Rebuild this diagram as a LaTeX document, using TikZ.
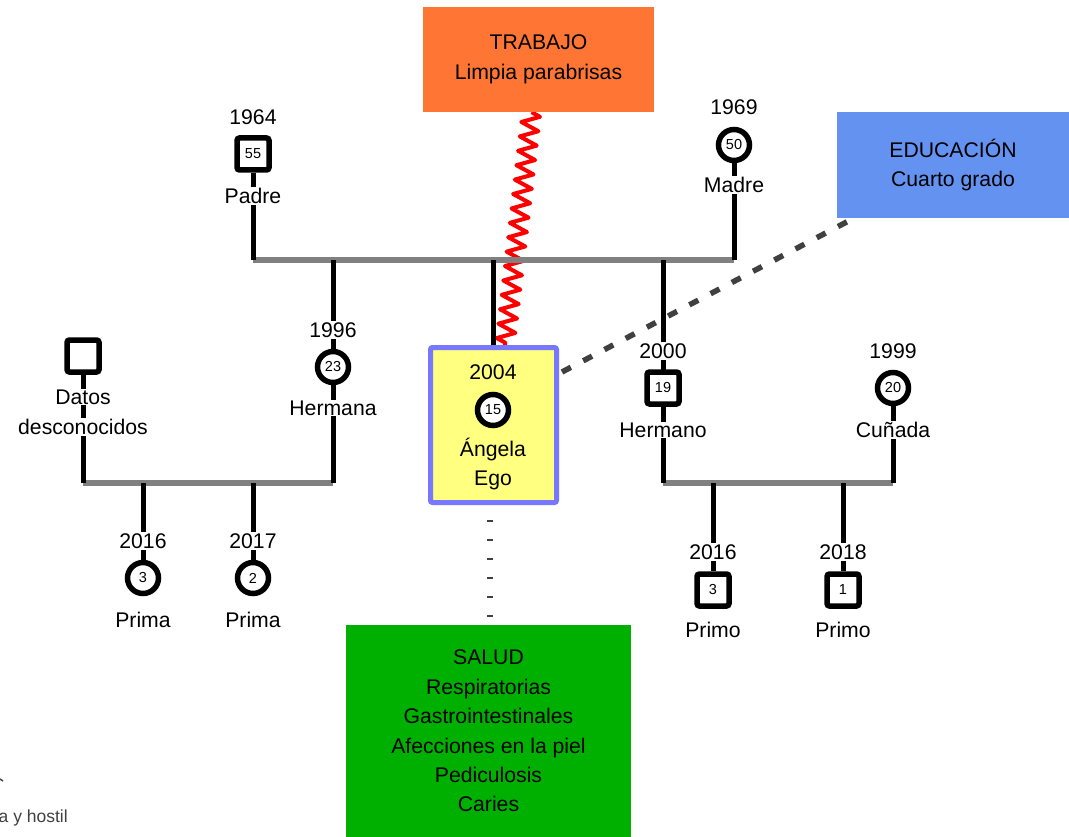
\documentclass[tikz,border=0pt]{standalone}
\usepackage{fontspec}
\setmainfont{Liberation Sans}
\usetikzlibrary{decorations.pathmorphing,calc}
\pgfdeclarelayer{bg}
\pgfsetlayers{bg,main}
\definecolor{trabajoc}{RGB}{255,118,52}
\definecolor{educ}{RGB}{100,146,240}
\definecolor{saludc}{RGB}{0,176,0}
\definecolor{egofill}{RGB}{255,255,128}
\definecolor{egoline}{RGB}{119,119,255}
\definecolor{barg}{RGB}{128,128,128}
\definecolor{dashg}{RGB}{64,64,64}
\begin{document}
\begin{tikzpicture}[x=1pt,y=-1pt,
  every node/.style={font=\fontsize{21.2}{29.4}\selectfont, inner sep=0pt},
  lbl/.style={fill=white, inner sep=1pt},
  numfont/.style={font=\fontsize{14.5}{16}\selectfont},
  male/.style={draw, line width=5.5pt, rounded corners=2.5pt, minimum size=32pt, fill=white, numfont},
  female/.style={draw, circle, line width=5.5pt, minimum size=31pt, fill=white, numfont},
  kin/.style={line width=5pt, black},
  bar/.style={line width=5.5pt, draw=barg},
  zz/.style={red, line width=4pt, line join=round, decorate, decoration={zigzag, segment length=14.5pt, amplitude=9pt}},
  edline/.style={dashg, line width=5.5pt, dash pattern=on 10pt off 14pt},
  dotline/.style={dashg, line width=6pt, dash pattern=on 2pt off 17pt, dash phase=4pt}]
\useasboundingbox (0,0) rectangle (1069,837);

% info boxes
\node[fill=trabajoc, minimum width=231pt, minimum height=105pt, align=center] (trabajo) at (538.5,59.5) {TRABAJO\\Limpia parabrisas};
\node[fill=educ, minimum width=232pt, minimum height=106pt, align=center] (edu) at (953,165) {EDUCACIÓN\\Cuarto grado};
\node[fill=saludc, minimum width=285pt, minimum height=212pt, align=center] (salud) at (488.5,731) {SALUD\\Respiratorias\\Gastrointestinales\\Afecciones en la piel\\Pediculosis\\Caries};

% ego
\node[draw=egoline, fill=egofill, line width=5pt, rounded corners=2pt, minimum width=126pt, minimum height=155pt] (ego) at (493.5,425) {};
\node (egoy) at (493,372) {2004};
\node[female] (egoc) at (493,410) {15};
\node (egon) at (493,450) {Ángela};
\node (egor) at (493,480) {Ego};

% parents
\node[lbl] (padrey) at (253,117) {1964};
\node[male] (padre) at (253,154) {55};
\node[lbl] (padren) at (253,196) {Padre};
\node[lbl] (madrey) at (734,107) {1969};
\node[female] (madre) at (734,145) {50};
\node[lbl] (madren) at (734,185) {Madre};

% siblings
\node[lbl] (hermanay) at (333,330) {1996};
\node[female] (hermana) at (333,367) {23};
\node[lbl] (hermanan) at (333,408) {Hermana};
\node[lbl] (hermanoy) at (663,351) {2000};
\node[male] (hermano) at (663,388) {19};
\node[lbl] (hermanon) at (663,430) {Hermano};

% in-laws
\node[male] (datos) at (83,356) {};
\node[lbl] (datosn1) at (83,397) {Datos};
\node[lbl] (datosn2) at (83,427) {desconocidos};
\node[lbl] (cunaday) at (893,351) {1999};
\node[female] (cunada) at (893,388) {20};
\node[lbl] (cunadan) at (893,430) {Cuñada};

% nieces / nephews
\node[lbl] (prima1y) at (143,541) {2016};
\node[female] (prima1) at (143,578) {3};
\node (prima1n) at (143,620) {Prima};
\node[lbl] (prima2y) at (253,541) {2017};
\node[female] (prima2) at (253,578) {2};
\node (prima2n) at (253,620) {Prima};
\node[lbl] (primo1y) at (713,552) {2016};
\node[male] (primo1) at (713,590) {3};
\node (primo1n) at (713,630) {Primo};
\node[lbl] (primo2y) at (843,552) {2018};
\node[male] (primo2) at (843,590) {1};
\node (primo2n) at (843,630) {Primo};

% cut-off legend fragment
\node[anchor=west, text=dashg, font=\fontsize{17.5}{20}\selectfont] (leg) at (-1.5,818) {a y hostil};
\draw[dashg, line width=1.5pt] (0,779) -- (3,781);

% bar coordinates
\coordinate (b1w) at (253,260);
\coordinate (b1e) at (734,260);
\coordinate (b2w) at (83,483);
\coordinate (b2e) at (333,483);
\coordinate (b3w) at (663,483);
\coordinate (b3e) at (893,483);

\begin{pgfonlayer}{bg}
  \fill[white] (0,0) rectangle (1069,837);
  \draw[zz] ([xshift=-7pt]trabajo.south) -- ([xshift=11.5pt]ego.north);
  \draw[bar] (b1w) -- (b1e);
  \draw[bar] (b2w) -- (b2e);
  \draw[bar] (b3w) -- (b3e);
  \draw[kin] (padre) -- (padre |- b1w);
  \draw[kin] (madre) -- (madre |- b1e);
  \draw[kin] (hermana |- b1w) -- (hermana |- b2e);
  \draw[kin] (ego.north |- b1w) -- (ego.north);
  \draw[kin] (hermano |- b1w) -- (hermano |- b3w);
  \draw[kin] (datos) -- (datos |- b2w);
  \draw[kin] (prima1 |- b2w) -- (prima1);
  \draw[kin] (prima2 |- b2w) -- (prima2);
  \draw[kin] (cunada) -- (cunada |- b3e);
  \draw[kin] (primo1 |- b3w) -- (primo1);
  \draw[kin] (primo2 |- b3w) -- (primo2);
  \draw[edline] ($(ego.east)+(3,-53)$) -- ($(edu.south west)+(17,0)$);
  \draw[dotline] ([xshift=-3.5pt]ego.south) -- ([xshift=-3.5pt]ego.south |- salud.north);
\end{pgfonlayer}
\end{tikzpicture}
\end{document}
